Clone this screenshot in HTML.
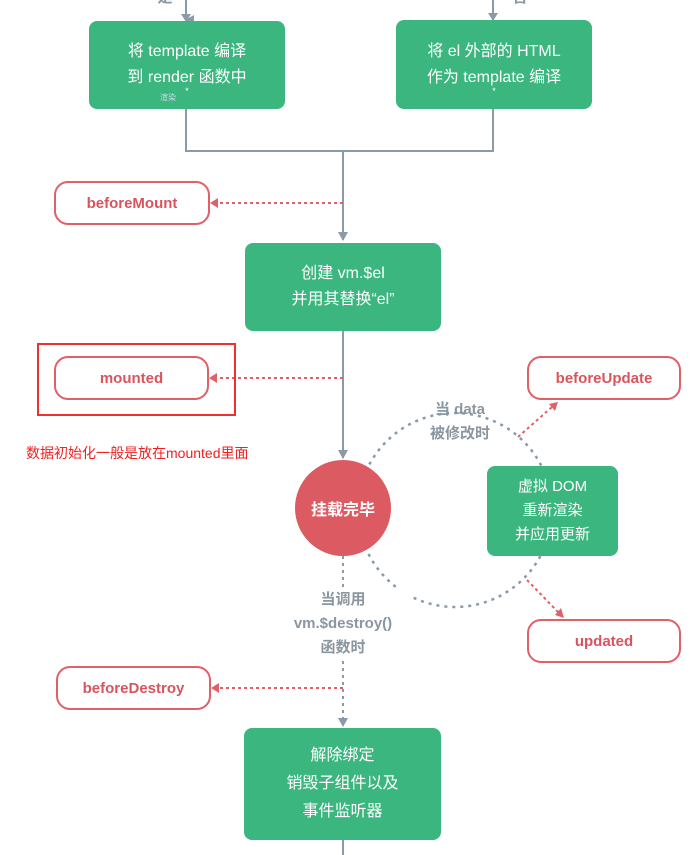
<!DOCTYPE html>
<html><head><meta charset="utf-8"><style>
body{margin:0;width:697px;height:855px;background:#fff;overflow:hidden;position:relative;font-family:"Liberation Sans","Noto Sans CJK SC",sans-serif}
.g{position:absolute;background:#3bb67f;border-radius:8px;color:#fff;font-size:16px;text-align:center;display:flex;flex-direction:column;justify-content:center;line-height:26px}
.r{position:absolute;border:2px solid #e06068;border-radius:14px;color:#d9545d;font-weight:bold;font-size:15px;display:flex;align-items:center;justify-content:center;box-sizing:border-box;background:#fff}
.t{position:absolute;color:#8a96a0;font-weight:bold;font-size:15px;text-align:center;line-height:24px}
</style></head><body>
<svg width="697" height="855" style="position:absolute;left:0;top:0">
<defs>
<marker id="ag" markerWidth="10" markerHeight="10" refX="5" refY="8" orient="auto" markerUnits="userSpaceOnUse"><path d="M0,0 L10,0 L5,9z" fill="#8a9aa6"/></marker>
<marker id="ar" markerWidth="10" markerHeight="10" refX="8" refY="5" orient="auto" markerUnits="userSpaceOnUse"><path d="M0,0 L9,5 L0,10z" fill="#e06068"/></marker>
</defs>
<g stroke="#8a9aa6" stroke-width="2" fill="none">
<line x1="186" y1="0" x2="186" y2="20" marker-end="url(#ag)" transform="rotate(0)"/>
<line x1="493" y1="0" x2="493" y2="20"/>
<path d="M186 109 V151 H493 V109"/>
<line x1="343" y1="151" x2="343" y2="240"/>
<line x1="343" y1="331" x2="343" y2="458"/>
<line x1="343" y1="556" x2="343" y2="722" stroke-dasharray="3,4"/>
<line x1="343" y1="840" x2="343" y2="855"/>
<circle cx="455" cy="510" r="97" stroke-dasharray="3,5" stroke-width="2.5"/>
</g>
<g fill="#8a9aa6">
<path d="M181 14 L191 14 L186 22z"/><path d="M488 13 L498 13 L493 21z"/>
<path d="M338 232 L348 232 L343 241z"/><path d="M338 450 L348 450 L343 459z"/>
<path d="M338 718 L348 718 L343 727z"/>
</g>
<g stroke="#e06068" stroke-width="2" fill="none" stroke-dasharray="3,3">
<line x1="343" y1="203" x2="216" y2="203"/>
<line x1="343" y1="378" x2="215" y2="378"/>
<line x1="343" y1="688" x2="217" y2="688"/>
<line x1="518" y1="437" x2="552" y2="407"/>
<line x1="527" y1="580" x2="558" y2="612"/>
</g>
<g fill="#e06068">
<path d="M210 203 L218 198 L218 208z"/><path d="M209 378 L217 373 L217 383z"/><path d="M211 688 L219 683 L219 693z"/>
<path d="M558 402 L549 404 L555 411z"/><path d="M564 618 L555 615 L561 608z"/>
</g>
</svg>
<div class="t" style="left:150px;top:-14px;width:30px">是</div>
<div class="t" style="left:505px;top:-14px;width:30px">否</div>
<div class="g" style="left:89px;top:21px;width:196px;height:88px">将 template 编译<br>到 render 函数中<sup style="font-size:9px;line-height:0">*</sup></div>
<div style="position:absolute;left:160px;top:92px;font-size:8px;color:#cde">渲染</div>
<div class="g" style="left:396px;top:20px;width:196px;height:89px">将 el 外部的 HTML<br>作为 template 编译<sup style="font-size:9px;line-height:0">*</sup></div>
<div class="r" style="left:54px;top:181px;width:156px;height:44px">beforeMount</div>
<div class="g" style="left:245px;top:243px;width:196px;height:88px">创建 vm.$el<br>并用其替换“el”</div>
<div style="position:absolute;left:37px;top:343px;width:195px;height:69px;border:2px solid #f03030"></div>
<div class="r" style="left:54px;top:356px;width:155px;height:44px">mounted</div>
<div style="position:absolute;left:26px;top:443px;color:#f02020;font-size:14px">数据初始化一般是放在mounted里面</div>
<div style="position:absolute;left:295px;top:460px;width:96px;height:96px;border-radius:50%;background:#dc5a62;color:#fff;font-weight:bold;font-size:16px;display:flex;align-items:center;justify-content:center">挂载完毕</div>
<div class="t" style="left:410px;top:398px;width:100px">当 data<br>被修改时</div>
<div class="r" style="left:527px;top:356px;width:154px;height:44px">beforeUpdate</div>
<div class="g" style="left:487px;top:466px;width:131px;height:90px;font-size:15px;line-height:24px">虚拟 DOM<br>重新渲染<br>并应用更新</div>
<div class="r" style="left:527px;top:619px;width:154px;height:44px">updated</div>
<div class="t" style="left:273px;top:588px;width:140px;background:#fff">当调用<br>vm.$destroy()<br>函数时</div>
<div class="r" style="left:56px;top:666px;width:155px;height:44px">beforeDestroy</div>
<div class="g" style="left:244px;top:728px;width:197px;height:112px;line-height:28px">解除绑定<br>销毁子组件以及<br>事件监听器</div>
</body></html>
